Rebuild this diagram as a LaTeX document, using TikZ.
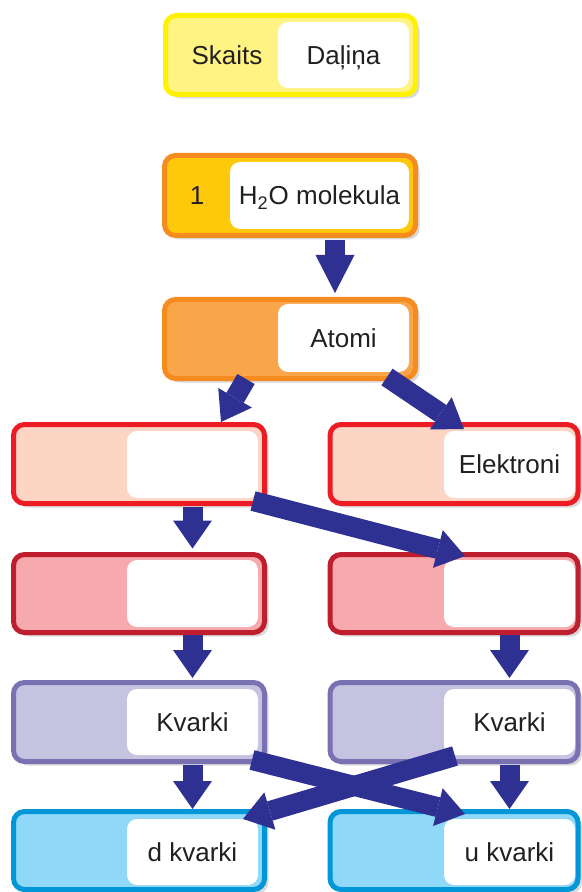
\documentclass[tikz,border=0pt]{standalone}
\usepackage{fontspec}
\setmainfont{Liberation Sans}
\usetikzlibrary{arrows.meta,shadows,calc}
\definecolor{txt}{HTML}{231F20}
\definecolor{arrowblue}{HTML}{2E3192}
\definecolor{yelB}{HTML}{FFF200}
\definecolor{yelF}{HTML}{FFF383}
\definecolor{oraB}{HTML}{F68B1F}
\definecolor{goldF}{HTML}{FFC90B}
\definecolor{atoF}{HTML}{F9A64A}
\definecolor{redB}{HTML}{ED1C24}
\definecolor{redF}{HTML}{FCD5C4}
\definecolor{dredB}{HTML}{BE1E2D}
\definecolor{dredF}{HTML}{F6AAAD}
\definecolor{purB}{HTML}{7A71B3}
\definecolor{purF}{HTML}{C6C3E1}
\definecolor{bluB}{HTML}{0096D8}
\definecolor{bluF}{HTML}{8FD8F7}
\tikzset{
  box/.style={draw, line width=2.5pt, rounded corners=5.5pt, inner sep=0pt, outer sep=0pt,
    drop shadow={shadow xshift=2pt, shadow yshift=-2pt, opacity=0.3}},
  inbox/.style={fill=white, rounded corners=5pt, inner sep=0pt, outer sep=0pt,
    text=txt, font=\fontsize{13}{15}\selectfont, text height=9.3pt, text depth=0pt},
  lbl/.style={text=txt, font=\fontsize{13}{15}\selectfont, inner sep=0pt,
    text height=9.3pt, text depth=0pt},
  bigarrow/.style={draw=arrowblue, line width=10pt,
    -{Triangle[length=14pt,width=19.5pt,line width=0pt]}},
  longarrow/.style={draw=arrowblue, line width=10pt,
    -{Triangle[length=19pt,width=19.5pt,line width=0pt]}},
}
\begin{document}
\begin{tikzpicture}[x=0.5pt,y=-0.5pt]
\useasboundingbox (0,0) rectangle (582,892);
% boxes
\node[box, draw=yelB, fill=yelF, minimum width=125pt, minimum height=39.5pt] (leg) at (290.5,55) {};
\node[inbox, minimum width=65.5pt, minimum height=33pt] (legw) at (343.5,55) {Daļiņa};
\node[lbl] (legs) at (227,55) {Skaits};

\node[box, draw=oraB, fill=goldF, minimum width=125.5pt, minimum height=40pt] (h2o) at (290,195.5) {};
\node[inbox, minimum width=89.5pt, minimum height=33.5pt] (h2ow) at (319.5,195.5) {H\textsubscript{2}O molekula};
\node[lbl] (h2on) at (197,195.5) {1};

\node[box, draw=oraB, fill=atoF, minimum width=125.5pt, minimum height=39.5pt] (ato) at (290,339) {};
\node[inbox, minimum width=65.5pt, minimum height=34pt] (atow) at (343.5,338) {Atomi};

\node[box, draw=redB, fill=redF, minimum width=125.5pt, minimum height=39.5pt] (l3) at (139,464) {};
\node[inbox, minimum width=65.5pt, minimum height=33.5pt] (l3w) at (192.5,464.5) {};
\node[box, draw=redB, fill=redF, minimum width=124pt, minimum height=39.5pt] (r3) at (454,464) {};
\node[inbox, minimum width=65.5pt, minimum height=33.5pt] (r3w) at (509.5,464.5) {Elektroni};

\node[box, draw=dredB, fill=dredF, minimum width=125.5pt, minimum height=39pt] (l4) at (139,593.5) {};
\node[inbox, minimum width=65.5pt, minimum height=33.5pt] (l4w) at (192.5,593.5) {};
\node[box, draw=dredB, fill=dredF, minimum width=124pt, minimum height=39pt] (r4) at (454,593.5) {};
\node[inbox, minimum width=65.5pt, minimum height=33.5pt] (r4w) at (509.5,593.5) {};

\node[box, draw=purB, fill=purF, minimum width=125.5pt, minimum height=39.5pt] (l5) at (139,722) {};
\node[inbox, minimum width=65.5pt, minimum height=33pt] (l5w) at (192.5,722) {Kvarki};
\node[box, draw=purB, fill=purF, minimum width=124pt, minimum height=39.5pt] (r5) at (454,722) {};
\node[inbox, minimum width=65.5pt, minimum height=33pt] (r5w) at (509.5,722) {Kvarki};

\node[box, draw=bluB, fill=bluF, minimum width=125.5pt, minimum height=39pt] (l6) at (139,850.5) {};
\node[inbox, minimum width=65.5pt, minimum height=33pt] (l6w) at (192.5,852) {d kvarki};
\node[box, draw=bluB, fill=bluF, minimum width=124pt, minimum height=39pt] (r6) at (454,850.5) {};
\node[inbox, minimum width=65.5pt, minimum height=33pt] (r6w) at (509.5,852) {u kvarki};

% arrow end points
\coordinate (a2s) at (246,379);
\coordinate (a2e) at (221,422);
\coordinate (a3s) at (387,377);
\coordinate (a3e) at (464,429);
\coordinate (a4s) at (253,501);
\coordinate (a4e) at (465,556);
\coordinate (a10s) at (252,760);
\coordinate (a10e) at (465,814);
\coordinate (a11s) at (455,756);
\coordinate (a11e) at (243,819);

% arrows
\draw[longarrow, shorten <=2.5pt, shorten >=3.25pt] ([xshift=22.5pt]h2o.south) -- ([xshift=22.5pt]ato.north);
\draw[bigarrow] (a2s) -- (a2e);
\draw[bigarrow] (a3s) -- (a3e);
\draw[bigarrow] (a4s) -- (a4e);
\draw[bigarrow, shorten <=1.75pt, shorten >=3pt] (l3w |- l3.south) -- (l4w |- l4.north);
\draw[bigarrow, shorten <=1.25pt, shorten >=2.25pt] (l4w |- l4.south) -- (l5w |- l5.north);
\draw[bigarrow, shorten <=1.25pt, shorten >=2.25pt] (r4w |- r4.south) -- (r5w |- r5.north);
\draw[bigarrow, shorten <=1.75pt, shorten >=1.25pt] (l5w |- l5.south) -- (l6w |- l6.north);
\draw[bigarrow, shorten <=1.75pt, shorten >=1.25pt] (r5w |- r5.south) -- (r6w |- r6.north);
\draw[bigarrow] (a10s) -- (a10e);
\draw[bigarrow] (a11s) -- (a11e);
\end{tikzpicture}
\end{document}
